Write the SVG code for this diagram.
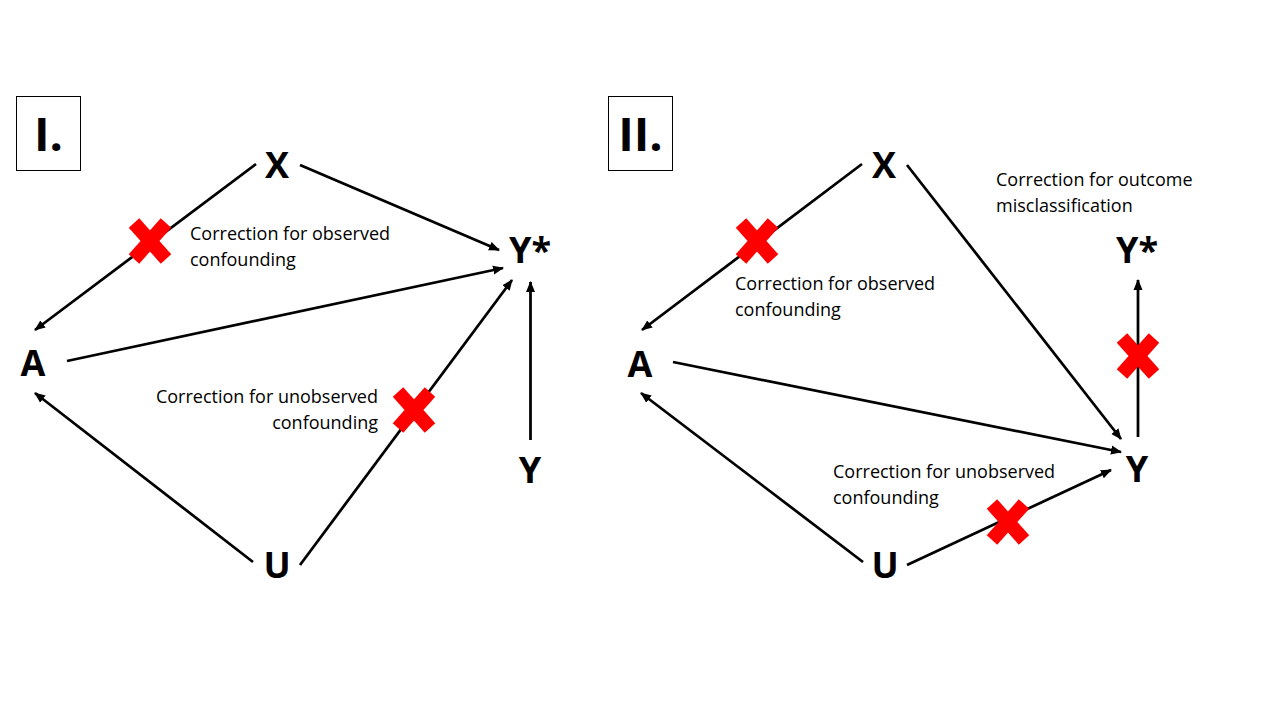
<svg xmlns="http://www.w3.org/2000/svg" width="1280" height="720" viewBox="0 0 1280 720">
<style>
.node{font-family:"Open Sans","Liberation Sans",sans-serif;font-weight:bold;font-size:36px;fill:#000;text-anchor:middle}
.lbl{font-family:"Open Sans","Liberation Sans",sans-serif;font-size:18px;fill:#000}
.box{fill:#fff;stroke:#000;stroke-width:1}
.panel{font-family:"Open Sans","Liberation Sans",sans-serif;font-weight:bold;font-size:47px;fill:#000;text-anchor:middle}
.edge{stroke:#000;stroke-width:2.75;fill:none;marker-end:url(#ah)}
.cross{stroke:#f00;stroke-width:14;stroke-linecap:butt}
</style>
<defs>
<marker id="ah" markerUnits="userSpaceOnUse" markerWidth="12" markerHeight="10" viewBox="0 0 12 10" refX="10" refY="5" orient="auto">
<path d="M0,0.5 L11,5 L0,9.5 z" fill="#000"/>
</marker>
<g id="x">
<line class="cross" x1="-16" y1="-18" x2="16" y2="18"/>
<line class="cross" x1="16" y1="-18" x2="-16" y2="18"/>
</g>
</defs>
<rect width="1280" height="720" fill="#fff"/>

<g id="connectors">
<line class="edge" x1="256" y1="164" x2="35" y2="330"/>
<line class="edge" x1="300" y1="165" x2="499" y2="250"/>
<line class="edge" x1="67" y1="361" x2="503" y2="268"/>
<line class="edge" x1="253" y1="562" x2="35" y2="393"/>
<line class="edge" x1="300" y1="565" x2="512" y2="280"/>
<line class="edge" x1="530.5" y1="440" x2="530.5" y2="282"/>

<line class="edge" x1="862" y1="164" x2="642" y2="330"/>
<line class="edge" x1="907" y1="165" x2="1121" y2="439"/>
<line class="edge" x1="673" y1="362" x2="1121" y2="452"/>
<line class="edge" x1="863" y1="562" x2="641" y2="393"/>
<line class="edge" x1="907" y1="565" x2="1111" y2="470"/>
<line class="edge" x1="1138" y1="437" x2="1138" y2="280"/>
</g>

<g id="crosses">
<use href="#x" x="150" y="241"/>
<use href="#x" x="414" y="410"/>
<use href="#x" x="757" y="241"/>
<use href="#x" x="1008" y="522"/>
<use href="#x" x="1138" y="356"/>
</g>

<g id="panel-I">
<rect class="box" x="16.5" y="96.5" width="64" height="74"/>
<text class="panel" x="48.5" y="151">I.</text>
</g>
<g id="panel-II">
<rect class="box" x="608.5" y="96.5" width="64" height="74"/>
<text class="panel" x="640.5" y="151">II.</text>
</g>

<g id="n1-X"><text class="node" x="277" y="178">X</text></g>
<g id="n1-A"><text class="node" x="33" y="376">A</text></g>
<g id="n1-U"><text class="node" x="277" y="578">U</text></g>
<g id="n1-Ystar"><text class="node" x="530" y="263">Y*</text></g>
<g id="n1-Y"><text class="node" x="530" y="483">Y</text></g>

<g id="n2-X"><text class="node" x="884" y="178">X</text></g>
<g id="n2-A"><text class="node" x="640" y="377">A</text></g>
<g id="n2-U"><text class="node" x="885" y="578">U</text></g>
<g id="n2-Ystar"><text class="node" x="1137" y="263">Y*</text></g>
<g id="n2-Y"><text class="node" x="1137" y="482">Y</text></g>

<g id="labels">
<text class="lbl" x="190" y="240">Correction for observed</text>
<text class="lbl" x="190" y="266">confounding</text>
<text class="lbl" x="378" y="403" text-anchor="end">Correction for unobserved</text>
<text class="lbl" x="378" y="429" text-anchor="end">confounding</text>
<text class="lbl" x="735" y="290">Correction for observed</text>
<text class="lbl" x="735" y="316">confounding</text>
<text class="lbl" x="833" y="478">Correction for unobserved</text>
<text class="lbl" x="833" y="504">confounding</text>
<text class="lbl" x="996" y="186">Correction for outcome</text>
<text class="lbl" x="996" y="212">misclassification</text>
</g>
</svg>
